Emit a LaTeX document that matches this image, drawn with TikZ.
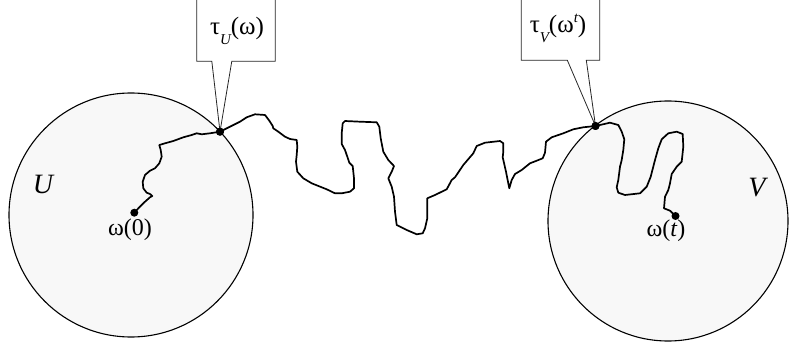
\documentclass[tikz,border=0pt]{standalone}
\usepackage{fontspec}
\setmainfont{Liberation Serif}
\usetikzlibrary{calc}
\definecolor{diskfill}{gray}{0.972}
\tikzset{
  region/.style={draw=black, line width=1.1pt, fill=diskfill},
  walk/.style={line width=1.7pt, line join=round, line cap=round},
  dot/.style={circle, fill=black, inner sep=0pt, minimum size=8pt},
  tag/.style={inner sep=0pt, minimum width=78pt, minimum height=66pt},
  tagtext/.style={inner sep=0pt, anchor=base, font=\fontsize{25}{28}\selectfont},
  callout/.style={draw=black!85, line width=0.8pt, fill=white, line join=miter},
  ptlabel/.style={inner sep=0pt, anchor=base, font=\fontsize{24}{27}\selectfont},
  setlabel/.style={inner sep=0pt, anchor=base, font=\fontsize{28}{30}\selectfont\itshape},
}
\begin{document}
\begin{tikzpicture}[x=1pt, y=-1pt]
  \useasboundingbox (0,0) rectangle (792,347);

  % the two sets
  \draw[region] (131,215) circle [radius=122pt];
  \draw[region] (668,221) circle [radius=120pt];
  \node[setlabel] (labU) at (43,194) {U};
  \node[setlabel] (labV) at (757,197) {V};

  % start, exit/entry points and end of the path
  \node[dot] (start) at (134.3,212.7) {};
  \node[dot] (hitU) at (220,131.7) {};
  \node[dot] (hitV) at (595.5,126) {};
  \node[dot] (stop) at (675.5,216) {};

  \node[ptlabel] (lab0) at (130,236) {ω(0)};
  \node[ptlabel] (labt) at (666,237) {ω(\textit{t})};

  % the sample path
  \draw[walk] (start.center) -- (139.3,207.3) -- (145,201.7) -- (150,197.3)
    -- (152.3,196) -- (150,194) -- (146.7,192.7) -- (143.3,188.3)
    -- (142.7,181.7) -- (145,175) -- (150,170.7) -- (155,168.3)
    -- (159.3,163.3) -- (161.7,156.7) -- (160.7,150) -- (159.3,145)
    -- (165,143.3) -- (173.3,141) -- (183.3,137.3) -- (191.7,135)
    -- (196.7,133.3) -- (201.7,134.3) -- (210,133.3) -- (hitU.center)
    -- (230,126.7) -- (240,121.7) -- (246.7,117.3) -- (255,114.3)
    -- (265,115) -- (269.3,120.7) -- (272.7,126) -- (273.3,128.3)
    -- (278.3,131.7) -- (285,136.7) -- (290,139) -- (296.7,140)
    -- (297.3,146.7) -- (296.7,155) -- (296,161.7) -- (297.3,171.7)
    -- (303.3,178.3) -- (311.7,183.3) -- (321.7,187.3) -- (326.7,189.3)
    -- (335,193.3) -- (341.7,193.3) -- (350,191.7) -- (354,188.3)
    -- (354,178.3) -- (352.7,166) -- (349.3,162.7) -- (347.3,156.7)
    -- (345,150) -- (341.7,144) -- (341.7,133.3) -- (342.7,123.3)
    -- (345,121) -- (360,121.7) -- (376.7,122.3) -- (379.3,126.7)
    -- (380.7,138.3) -- (383.3,151.7) -- (388.3,160) -- (394,166)
    -- (391.7,171.7) -- (388.3,178.3) -- (391.7,186.7) -- (394,196.7)
    -- (395,211.7) -- (396.7,225) -- (406.7,230) -- (416.7,234.3)
    -- (422.7,233.3) -- (425,228.3) -- (427.3,218.3) -- (427.3,198.3)
    -- (435,195) -- (446.7,189.3) -- (451.7,180) -- (455,177.3)
    -- (463.3,165) -- (473.3,153.3) -- (476.7,146) -- (485,142.7)
    -- (500,141) -- (503.3,143.3) -- (503.3,151.7) -- (502.7,157.3)
    -- (506,171.7) -- (509.3,188.3) -- (511.7,180) -- (515,174)
    -- (521.7,170) -- (530,163.3) -- (536.7,160.7) -- (542.7,158.3)
    -- (545,152.7) -- (546,141.7) -- (551.7,137.3) -- (563.3,133.3)
    -- (573.3,129.3) -- (583.3,127.3) -- (hitV.center)
    -- (610,122.7) -- (618.3,125) -- (621.7,131.7) -- (624.3,139.3)
    -- (623.3,150) -- (621.7,160) -- (620,166.7) -- (618.3,180)
    -- (616.7,187.3) -- (618.3,192.7) -- (625,195) -- (640,193.3)
    -- (646.7,186.7) -- (650.7,176.7) -- (655,160) -- (658.3,148.3)
    -- (661.7,139.3) -- (668.3,133.3) -- (676.7,131.7) -- (682.7,134)
    -- (683.3,146.7) -- (681.7,161.7) -- (676.7,166.7) -- (671.7,174)
    -- (670,183.3) -- (668.3,190) -- (665,196.7) -- (664,208.3)
    -- (670,210.7) -- (stop.center);

  % labelled callouts pointing at the hitting points
  \node[tag] (boxU) at (236,28) {};
  \draw[callout] (boxU.north west) -- (boxU.south west)
    -- ($(boxU.south west)+(15,0)$) -- (hitU.center)
    -- ($(boxU.south west)+(35,0)$) -- (boxU.south east)
    -- (boxU.north east);
  \node[tagtext] (textU) at (237,35) {τ\raisebox{-0.4em}{\fontsize{15}{15}\selectfont\itshape U}(ω)};

  \node[tag] (boxV) at (560.5,27) {};
  \draw[callout] (boxV.north west) -- (boxV.south west)
    -- ($(boxV.south west)+(46,0)$) -- (hitV.center)
    -- ($(boxV.south west)+(65,0)$) -- (boxV.south east)
    -- (boxV.north east);
  \node[tagtext] (textV) at (558,33) {τ\raisebox{-0.4em}{\fontsize{15}{15}\selectfont\itshape V}(ω\raisebox{0.4em}{\fontsize{15}{15}\selectfont\itshape t})};

  % redraw the dots above the callout lines
  \fill (hitU) circle [radius=4pt];
  \fill (hitV) circle [radius=4pt];
\end{tikzpicture}
\end{document}
